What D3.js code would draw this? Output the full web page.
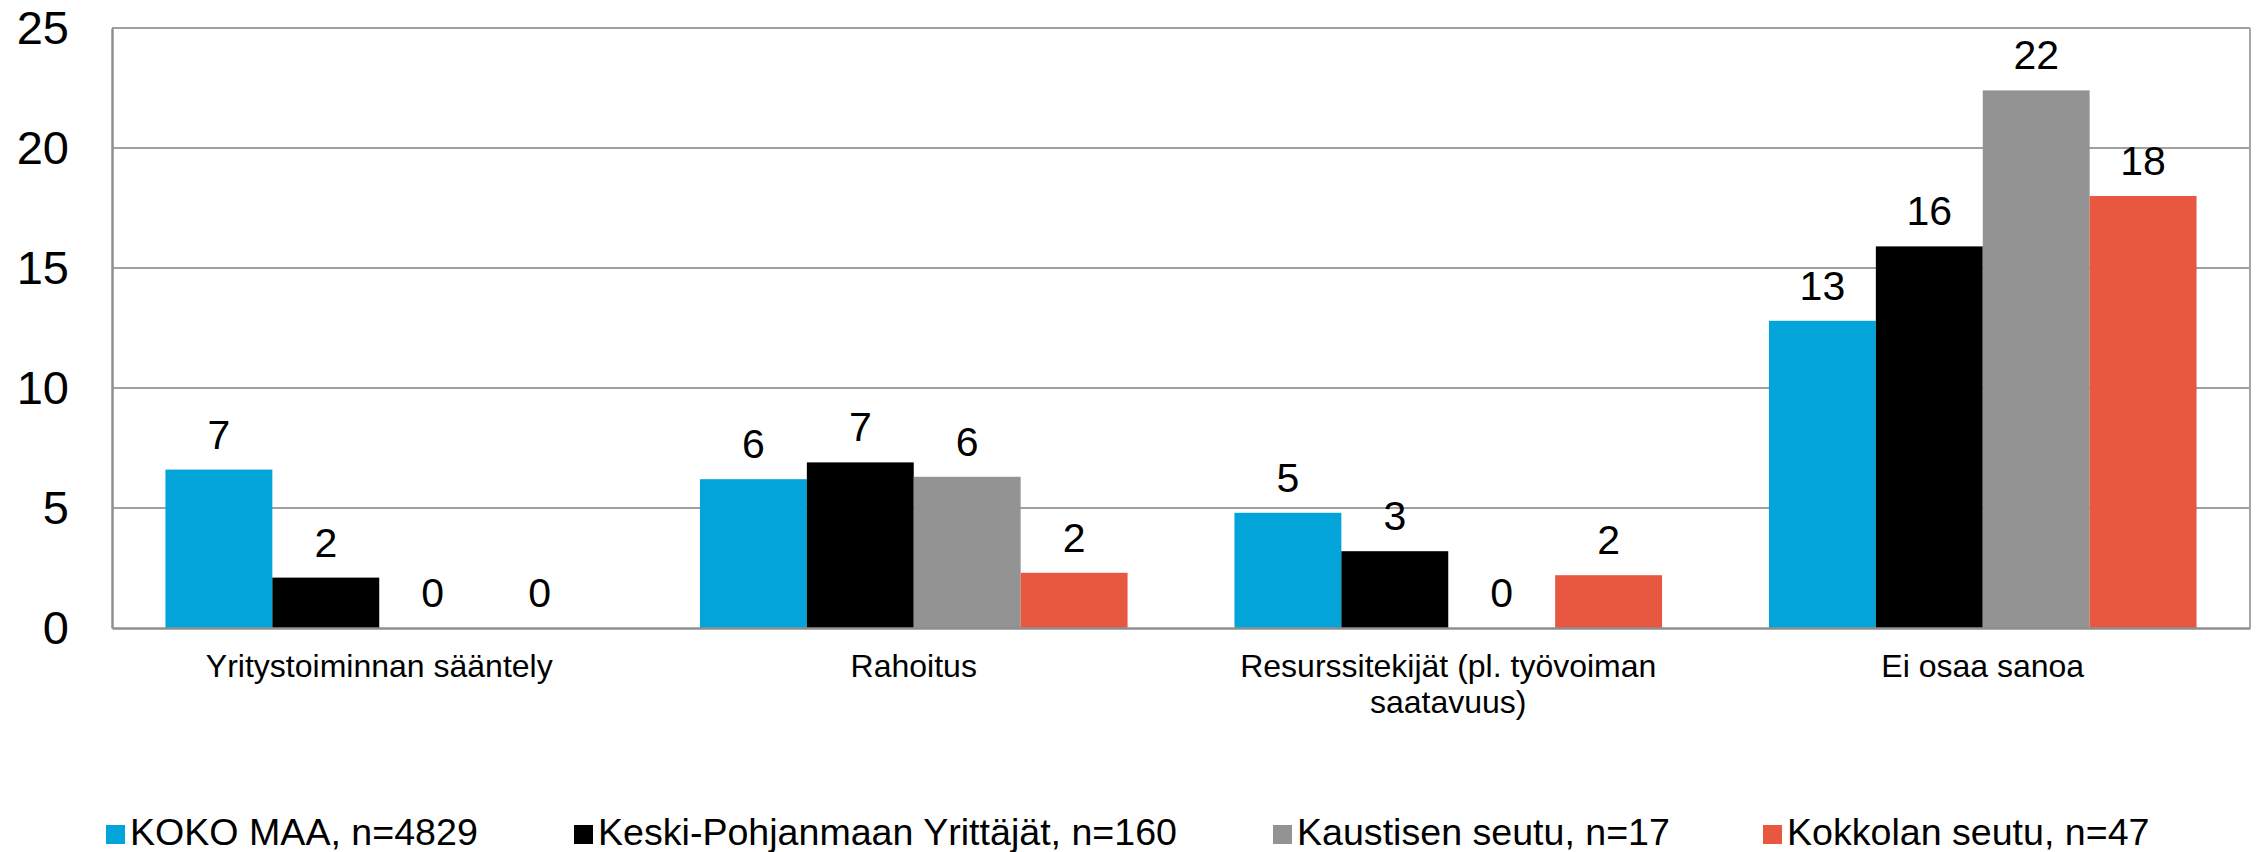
<!DOCTYPE html>
<html>
<head>
<meta charset="utf-8">
<script src="https://cdn.jsdelivr.net/npm/d3@7"></script>
<style>
  html, body { margin: 0; padding: 0; background: #fff; }
  svg { display: block; font-family: "Liberation Sans", Arial, sans-serif; }
</style>
</head>
<body>
<svg id="chart" width="2260" height="852"></svg>
<script>
const categories = ["Yritystoiminnan sääntely", "Rahoitus", "Resurssitekijät (pl. työvoiman saatavuus)", "Ei osaa sanoa"];
const seriesNames = ["KOKO MAA, n=4829", "Keski-Pohjanmaan Yrittäjät, n=160", "Kaustisen seutu, n=17", "Kokkolan seutu, n=47"];
const seriesColors = ["#02A4D9", "#000000", "#939393", "#E8573F"];
const kokoMaa = [6.6, 6.2, 4.8, 12.8];
const keskiPohjanmaa = [2.1, 6.9, 3.2, 15.9];
const kaustinen = [0, 6.3, 0, 22.4];
const kokkola = [0, 2.3, 2.2, 18.0];
const yTicks = [0, 5, 10, 15, 20, 25];

const seriesValues = [kokoMaa, keskiPohjanmaa, kaustinen, kokkola];

const svg = d3.select("#chart");
const plotLeft = 112, plotRight = 2250, plotTop = 28, plotBottom = 628;

const x0 = d3.scaleBand().domain(categories).range([plotLeft, plotRight]).padding(0);
const x1 = d3.scaleBand().domain(seriesNames).range([0, x0.bandwidth()]).paddingInner(0).paddingOuter(0.5);
const y = d3.scaleLinear().domain([0, 25]).range([plotBottom, plotTop]);

// gridlines
svg.append("g")
  .selectAll("line")
  .data(yTicks.filter(t => t > 0))
  .join("line")
  .attr("x1", plotLeft).attr("x2", plotRight)
  .attr("y1", d => y(d)).attr("y2", d => y(d))
  .attr("stroke", "#a0a0a0").attr("stroke-width", 2);

// right border
svg.append("line")
  .attr("x1", plotRight).attr("x2", plotRight).attr("y1", plotTop).attr("y2", plotBottom)
  .attr("stroke", "#a6a6a6").attr("stroke-width", 2);

// bars
const groups = svg.append("g")
  .selectAll("g")
  .data(categories)
  .join("g")
  .attr("transform", d => `translate(${x0(d)},0)`);

groups.selectAll("rect")
  .data((c, ci) => seriesNames.map((s, si) => ({ s, si, v: seriesValues[si][ci] })))
  .join("rect")
  .attr("x", d => x1(d.s))
  .attr("width", x1.bandwidth())
  .attr("y", d => y(d.v))
  .attr("height", d => y(0) - y(d.v))
  .attr("fill", d => seriesColors[d.si]);

groups.selectAll("text.val")
  .data((c, ci) => seriesNames.map((s, si) => ({ s, si, v: seriesValues[si][ci] })))
  .join("text")
  .attr("class", "val")
  .attr("x", d => x1(d.s) + x1.bandwidth() / 2)
  .attr("y", d => y(d.v) - 21)
  .attr("text-anchor", "middle")
  .attr("font-size", 41)
  .attr("fill", "#000")
  .text(d => Math.round(d.v));

// y axis
const yAxis = d3.axisLeft(y).tickValues(yTicks).tickSize(0).tickPadding(43).tickFormat(d3.format("d"));
const gy = svg.append("g").attr("transform", `translate(${plotLeft},0)`).call(yAxis);
gy.select(".domain").attr("stroke", "#8f8f8f").attr("stroke-width", 2.5);
gy.selectAll("text").attr("font-size", 47).attr("fill", "#000")
  .attr("font-family", "'Liberation Sans', Arial, sans-serif");

// x axis
const xAxis = d3.axisBottom(x0).tickSize(0).tickPadding(0);
const gx = svg.append("g").attr("transform", `translate(0,${plotBottom})`).call(xAxis);
gx.select(".domain").attr("stroke", "#8f8f8f").attr("stroke-width", 2.5);
gx.selectAll("text")
  .attr("font-size", 32).attr("fill", "#000")
  .attr("font-family", "'Liberation Sans', Arial, sans-serif")
  .attr("y", 49).attr("dy", 0)
  .each(function(d) {
    const t = d3.select(this);
    const words = d.split(" ");
    const maxW = x0.bandwidth() * 0.9;
    t.text(null);
    let line = [];
    let tspan = t.append("tspan").attr("x", 0).attr("dy", 0);
    for (const w of words) {
      line.push(w);
      tspan.text(line.join(" "));
      if (tspan.node().getComputedTextLength() > maxW && line.length > 1) {
        line.pop();
        tspan.text(line.join(" "));
        line = [w];
        tspan = t.append("tspan").attr("x", 0).attr("dy", 36).text(w);
      }
    }
  });

// legend (item positions are layout constants)
const legendX = [106, 574, 1273, 1763];
const legend = svg.append("g");
seriesNames.forEach((name, i) => {
  const g = legend.append("g").attr("transform", `translate(${legendX[i]},0)`);
  g.append("rect").attr("x", 0).attr("y", 825).attr("width", 19).attr("height", 19).attr("fill", seriesColors[i]);
  g.append("text").attr("x", 24).attr("y", 845).attr("font-size", 37.6).attr("fill", "#000").text(name);
});
</script>
</body>
</html>
